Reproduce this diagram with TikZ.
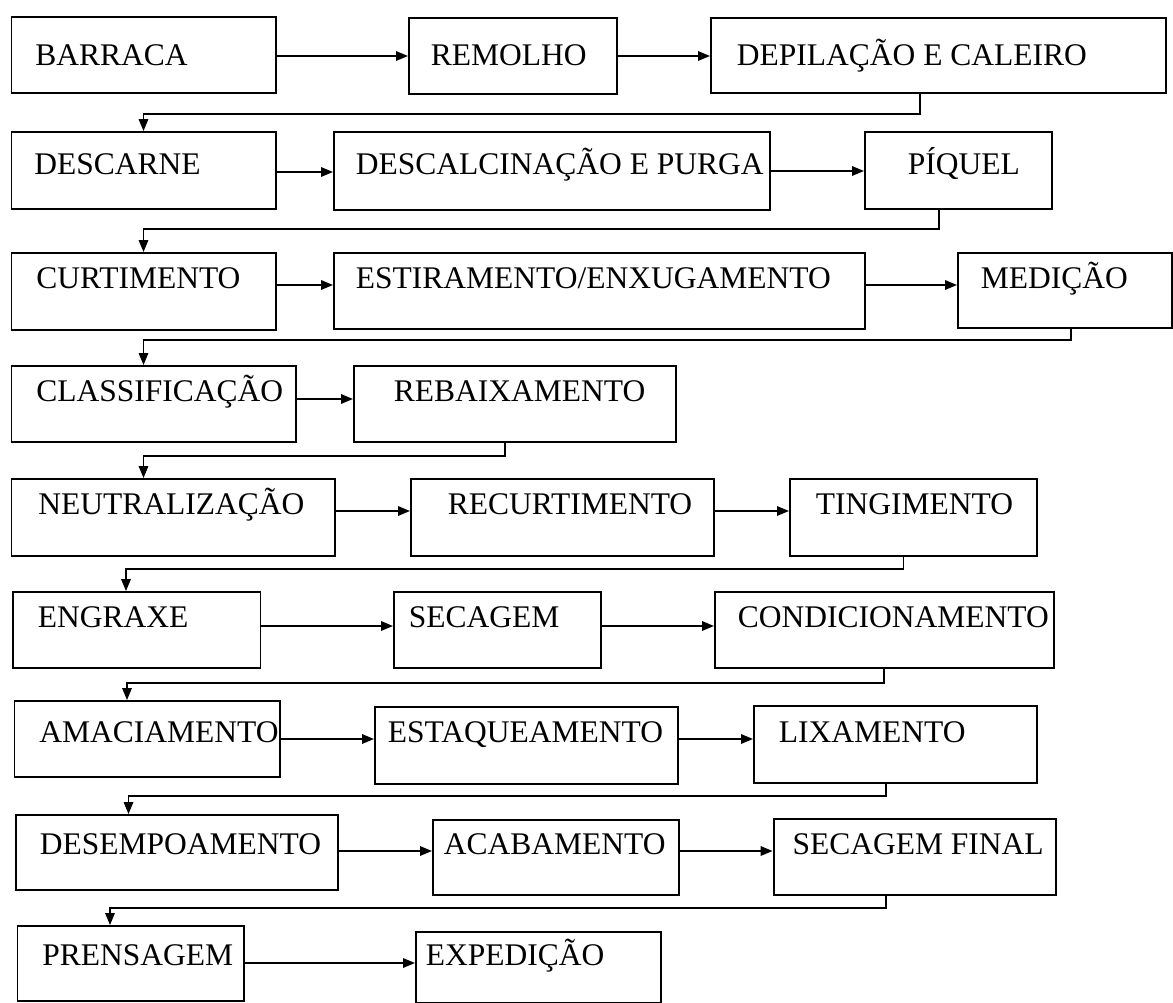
\documentclass[tikz,border=0pt]{standalone}
\usepackage{fontspec}
\setmainfont{Liberation Serif}
\usepackage{tikz}
\usetikzlibrary{arrows.meta}

\tikzset{
  recuo/.style={execute at begin node={\hspace*{#1}}},
  etapa/.style={draw, line width=1.9pt, anchor=base west, inner xsep=0pt, inner ysep=0pt,
    align=flush left, font=\fontsize{31.5}{36}\selectfont},
  seta/.style={line width=1.7pt, -{Triangle[length=12pt,width=9.5pt]}}
}

\begin{document}
\begin{tikzpicture}[x=1pt, y=1pt]
  \useasboundingbox (0,0) rectangle (1173,-1002);

  % linha 1
  \node[etapa, text width=264.5pt, text height=48pt, text depth=28pt, recuo=24pt] (barraca) at (10.5,-65) {BARRACA};
  \node[etapa, text width=208pt, text height=47pt, text depth=29pt, recuo=22pt] (remolho) at (408,-65) {REMOLHO};
  \node[etapa, text width=455pt, text height=47pt, text depth=28pt, recuo=26pt] (depilacao) at (710,-65) {DEPILAÇÃO E CALEIRO};
  % linha 2
  \node[etapa, text width=264.5pt, text height=42pt, text depth=35pt, recuo=23pt] (descarne) at (10.5,-174) {DESCARNE};
  \node[etapa, text width=436pt, text height=42pt, text depth=36pt, recuo=22pt] (descalcinacao) at (333,-174) {DESCALCINAÇÃO E PURGA};
  \node[etapa, text width=187pt, text height=42pt, text depth=35pt, recuo=43pt] (piquel) at (864,-174) {PÍQUEL};
  % linha 3
  \node[etapa, text width=264.5pt, text height=35pt, text depth=42pt, recuo=25pt] (curtimento) at (10.5,-288) {CURTIMENTO};
  \node[etapa, text width=531pt, text height=35pt, text depth=41pt, recuo=22pt] (estiramento) at (333,-288) {ESTIRAMENTO/ENXUGAMENTO};
  \node[etapa, text width=214pt, text height=35pt, text depth=40pt, recuo=23pt] (medicao) at (957,-288) {MEDIÇÃO};
  % linha 4
  \node[etapa, text width=284.5pt, text height=35pt, text depth=41pt, recuo=25pt] (classificacao) at (10.5,-401) {CLASSIFICAÇÃO};
  \node[etapa, text width=322pt, text height=35pt, text depth=41pt, recuo=40pt] (rebaixamento) at (353,-401) {REBAIXAMENTO};
  % linha 5
  \node[etapa, text width=323.5pt, text height=35pt, text depth=42pt, recuo=27pt] (neutralizacao) at (10.5,-514) {NEUTRALIZAÇÃO};
  \node[etapa, text width=303pt, text height=35pt, text depth=42pt, recuo=37pt] (recurtimento) at (410,-514) {RECURTIMENTO};
  \node[etapa, text width=247pt, text height=35pt, text depth=42pt, recuo=26pt] (tingimento) at (789,-514) {TINGIMENTO};
  % linha 6
  \node[etapa, text width=247.5pt, text height=35pt, text depth=41pt, recuo=25pt] (engraxe) at (12,-627) {ENGRAXE};
  \node[etapa, text width=207pt, text height=35pt, text depth=41pt, recuo=15pt] (secagem) at (393,-627) {SECAGEM};
  \node[etapa, text width=339pt, text height=35pt, text depth=41pt, recuo=23pt] (condicionamento) at (714,-627) {CONDICIONAMENTO};
  % linha 7
  \node[etapa, text width=265.5pt, text height=41pt, text depth=35pt, recuo=25pt] (amaciamento) at (13.5,-742) {AMACIAMENTO};
  \node[etapa, text width=303pt, text height=35pt, text depth=42pt, recuo=13pt] (estaqueamento) at (374,-742) {ESTAQUEAMENTO};
  \node[etapa, text width=283pt, text height=36pt, text depth=41pt, recuo=25pt] (lixamento) at (753,-742) {LIXAMENTO};
  % linha 8
  \node[etapa, text width=321.6pt, text height=39pt, text depth=36pt, recuo=24pt] (desempoamento) at (15,-854) {DESEMPOAMENTO};
  \node[etapa, text width=246pt, text height=34pt, text depth=41pt, recuo=11pt] (acabamento) at (432,-854) {ACABAMENTO};
  \node[etapa, text width=282pt, text height=35pt, text depth=41pt, recuo=19pt] (secagemfinal) at (772.6,-854) {SECAGEM FINAL};
  % linha 9
  \node[etapa, text width=226.5pt, text height=39pt, text depth=36pt, recuo=25pt] (prensagem) at (16.5,-965) {PRENSAGEM};
  \node[etapa, text width=245pt, text height=33pt, text depth=38pt, recuo=10pt] (expedicao) at (415,-965) {EXPEDIÇÃO};

  % setas na mesma linha
  \draw[seta] ([yshift=9pt]barraca.base east) -- ([yshift=9pt]remolho.base west);
  \draw[seta] ([yshift=9pt]remolho.base east) -- ([yshift=9pt]depilacao.base west);
  \draw[seta] ([yshift=2pt]descarne.base east) -- ([yshift=2pt]descalcinacao.base west);
  \draw[seta] ([yshift=3pt]descalcinacao.base east) -- ([yshift=3pt]piquel.base west);
  \draw[seta] ([yshift=3pt]curtimento.base east) -- ([yshift=3pt]estiramento.base west);
  \draw[seta] ([yshift=3pt]estiramento.base east) -- ([yshift=3pt]medicao.base west);
  \draw[seta] ([yshift=2pt]classificacao.base east) -- ([yshift=2pt]rebaixamento.base west);
  \draw[seta] ([yshift=3pt]neutralizacao.base east) -- ([yshift=3pt]recurtimento.base west);
  \draw[seta] ([yshift=3pt]recurtimento.base east) -- ([yshift=3pt]tingimento.base west);
  \draw[seta] ([yshift=1pt]engraxe.base east) -- ([yshift=1pt]secagem.base west);
  \draw[seta] ([yshift=1pt]secagem.base east) -- ([yshift=1pt]condicionamento.base west);
  \draw[seta] ([yshift=3pt]amaciamento.base east) -- ([yshift=3pt]estaqueamento.base west);
  \draw[seta] ([yshift=3pt]estaqueamento.base east) -- ([yshift=3pt]lixamento.base west);
  \draw[seta] ([yshift=3pt]desempoamento.base east) -- ([yshift=3pt]acabamento.base west);
  \draw[seta] ([yshift=3pt]acabamento.base east) -- ([yshift=3pt]secagemfinal.base west);
  \draw[seta] ([yshift=2pt]prensagem.base east) -- ([yshift=2pt]expedicao.base west);

  % retorno para a linha seguinte
  \draw[seta] (depilacao.south west) ++(210,0) -- ++(0,-20) -| ([xshift=133pt]descarne.north west);
  \draw[seta] (piquel.south west) ++(75,0) -- ++(0,-19) -| ([xshift=133pt]curtimento.north west);
  \draw[seta] (medicao.south west) ++(114,0) -- ++(0,-11) -| ([xshift=133pt]classificacao.north west);
  \draw[seta] (rebaixamento.south west) ++(152,0) -- ++(0,-13) -| ([xshift=133pt]neutralizacao.north west);
  \draw[seta] (tingimento.south west) ++(114.5,0) -- ++(0,-12) -| ([xshift=114pt]engraxe.north west);
  \draw[seta] (condicionamento.south west) ++(170,0) -- ++(0,-14) -| ([xshift=113.5pt]amaciamento.north west);
  \draw[seta] (lixamento.south west) ++(133,0) -- ++(0,-12) -| ([xshift=113.5pt]desempoamento.north west);
  \draw[seta] (secagemfinal.south west) ++(113.5,0) -- ++(0,-12) -| ([xshift=93.5pt]prensagem.north west);
\end{tikzpicture}
\end{document}
